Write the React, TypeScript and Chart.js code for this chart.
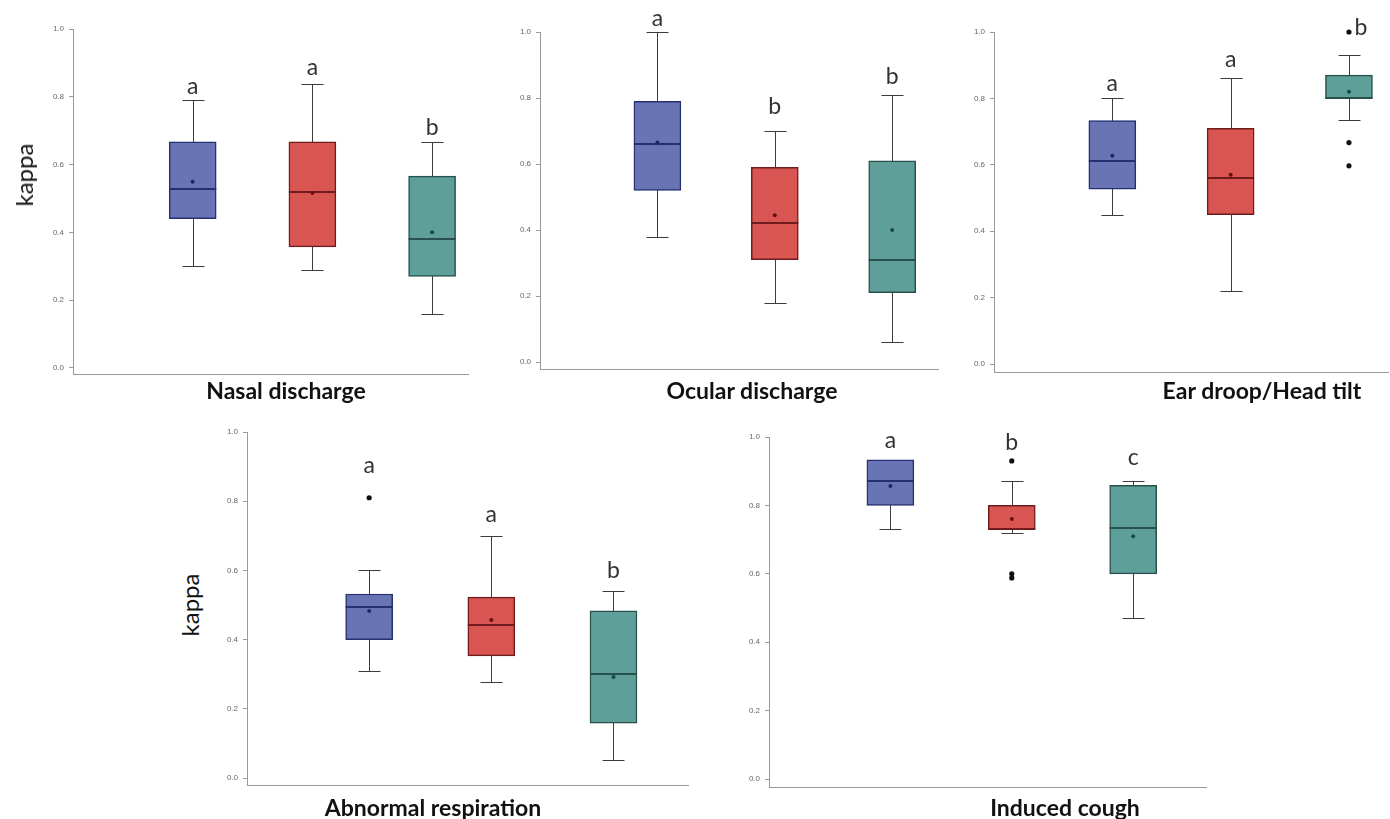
import React, { useEffect, useRef } from 'react';
import { Chart, registerables } from 'chart.js';

Chart.register(...registerables);

// ---------- data ----------
const groups = ['Group 1', 'Group 2', 'Group 3'];
const tickValues = [0, 0.2, 0.4, 0.6, 0.8, 1.0];
const tickLabels = ['0.0', '0.2', '0.4', '0.6', '0.8', '1.0'];

const nasalLow = [0.30, 0.29, 0.16];
const nasalQ1 = [0.44, 0.357, 0.27];
const nasalMedian = [0.528, 0.519, 0.38];
const nasalQ3 = [0.667, 0.667, 0.566];
const nasalHigh = [0.79, 0.838, 0.667];
const nasalMean = [0.549, 0.516, 0.40];
const nasalOutliers: [number, number][] = [];
const nasalLetters = ['a', 'a', 'b'];
const nasalLetterY = [0.808, 0.864, 0.687];

const ocularLow = [0.38, 0.18, 0.06];
const ocularQ1 = [0.52, 0.31, 0.21];
const ocularMedian = [0.66, 0.42, 0.31];
const ocularQ3 = [0.79, 0.59, 0.61];
const ocularHigh = [1.0, 0.70, 0.81];
const ocularMean = [0.665, 0.445, 0.40];
const ocularOutliers: [number, number][] = [];
const ocularLetters = ['a', 'b', 'b'];
const ocularLetterY = [1.018, 0.752, 0.842];

const earLow = [0.45, 0.22, 0.735];
const earQ1 = [0.527, 0.45, 0.80];
const earMedian = [0.61, 0.56, 0.80];
const earQ3 = [0.733, 0.71, 0.87];
const earHigh = [0.80, 0.86, 0.93];
const earMean = [0.627, 0.57, 0.82];
const earOutliers: [number, number][] = [[2, 1.0], [2, 0.667], [2, 0.597]];
const earLetters = ['a', 'a', 'b'];
const earLetterY = [0.822, 0.895, 0.991];

const respLow = [0.31, 0.277, 0.052];
const respQ1 = [0.40, 0.353, 0.159];
const respMedian = [0.494, 0.442, 0.30];
const respQ3 = [0.532, 0.523, 0.483];
const respHigh = [0.60, 0.70, 0.54];
const respMean = [0.483, 0.457, 0.292];
const respOutliers: [number, number][] = [[0, 0.81]];
const respLetters = ['a', 'a', 'b'];
const respLetterY = [0.882, 0.74, 0.578];

const coughLow = [0.73, 0.72, 0.47];
const coughQ1 = [0.80, 0.73, 0.60];
const coughMedian = [0.871, 0.73, 0.733];
const coughQ3 = [0.933, 0.80, 0.859];
const coughHigh = [0.933, 0.871, 0.871];
const coughMean = [0.857, 0.76, 0.71];
const coughOutliers: [number, number][] = [[1, 0.93], [1, 0.60], [1, 0.588]];
const coughLetters = ['a', 'b', 'c'];
const coughLetterY = [0.968, 0.962, 0.918];

// ---------- styles ----------
const FILL = ['#6874b4', '#d95552', '#5f9f99'];
const EDGE = ['#263070', '#701c1c', '#28504d'];
const MEANC = ['#1d2868', '#6a0f0f', '#1c4744'];
const WHISKER = '#3c3c3c';
const AXIS = '#9a9a9a';
const BOX_W = 47;
const CAP_W = 22;
const YW = 40; // y axis width
const PT = 30; // top padding
const XH = 10; // x axis height
const PR = 2;

type Panel = {
  title: string;
  low: number[]; q1: number[]; median: number[]; q3: number[]; high: number[]; mean: number[];
  outliers: [number, number][];
  letters: string[]; letterY: number[]; letterDx: number[];
  axisX: number; yAt1: number; xAxisY: number; right: number; yMin: number; xMax: number;
  titleX: number; titleTop: number;
};

const panels: Panel[] = [
  {
    title: 'Nasal discharge', low: nasalLow, q1: nasalQ1, median: nasalMedian, q3: nasalQ3, high: nasalHigh, mean: nasalMean,
    outliers: nasalOutliers, letters: nasalLetters, letterY: nasalLetterY, letterDx: [0, 0, 0],
    axisX: 73, yAt1: 29, xAxisY: 374, right: 470, yMin: -0.018, xMax: 3.30, titleX: 286, titleTop: 379,
  },
  {
    title: 'Ocular discharge', low: ocularLow, q1: ocularQ1, median: ocularMedian, q3: ocularQ3, high: ocularHigh, mean: ocularMean,
    outliers: ocularOutliers, letters: ocularLetters, letterY: ocularLetterY, letterDx: [0, 0, 0],
    axisX: 540, yAt1: 32, xAxisY: 369, right: 940, yMin: -0.021, xMax: 3.39, titleX: 752, titleTop: 379,
  },
  {
    title: 'Ear droop/Head tilt', low: earLow, q1: earQ1, median: earMedian, q3: earQ3, high: earHigh, mean: earMean,
    outliers: earOutliers, letters: earLetters, letterY: earLetterY, letterDx: [0, 0, 12],
    axisX: 994, yAt1: 32, xAxisY: 372, right: 1390, yMin: -0.024, xMax: 3.33, titleX: 1262, titleTop: 379,
  },
  {
    title: 'Abnormal respiration', low: respLow, q1: respQ1, median: respMedian, q3: respQ3, high: respHigh, mean: respMean,
    outliers: respOutliers, letters: respLetters, letterY: respLetterY, letterDx: [0, 0, 0],
    axisX: 247, yAt1: 432, xAxisY: 785, right: 690, yMin: -0.02, xMax: 3.61, titleX: 433, titleTop: 796,
  },
  {
    title: 'Induced cough', low: coughLow, q1: coughQ1, median: coughMedian, q3: coughQ3, high: coughHigh, mean: coughMean,
    outliers: coughOutliers, letters: coughLetters, letterY: coughLetterY, letterDx: [0, 0, 0],
    axisX: 769, yAt1: 437, xAxisY: 787, right: 1208, yMin: -0.023, xMax: 3.60, titleX: 1065, titleTop: 796,
  },
];

const kappaLabels = [
  { x: 24, y: 175 },
  { x: 190, y: 605 },
];

function makeBoxPlugin(p: Panel) {
  return {
    id: 'boxExtras',
    beforeDatasetsDraw(chart: any) {
      const { ctx } = chart;
      const x = chart.scales.x, y = chart.scales.y;
      ctx.save();
      ctx.strokeStyle = WHISKER;
      ctx.lineWidth = 1;
      p.low.forEach((lo, i) => {
        const cx = Math.round(x.getPixelForValue(i + 1)) + 0.5;
        const yl = Math.round(y.getPixelForValue(lo)) + 0.5;
        const yh = Math.round(y.getPixelForValue(p.high[i])) + 0.5;
        ctx.beginPath();
        ctx.moveTo(cx, yl); ctx.lineTo(cx, yh);
        ctx.moveTo(cx - CAP_W / 2, yl); ctx.lineTo(cx + CAP_W / 2, yl);
        ctx.moveTo(cx - CAP_W / 2, yh); ctx.lineTo(cx + CAP_W / 2, yh);
        ctx.stroke();
      });
      ctx.restore();
    },
    afterDatasetDraw(chart: any, args: any) {
      if (args.index !== 0) return;
      const { ctx } = chart;
      const x = chart.scales.x, y = chart.scales.y;
      ctx.save();
      ctx.lineWidth = 2;
      p.median.forEach((m, i) => {
        const cx = x.getPixelForValue(i + 1);
        const yy = Math.round(y.getPixelForValue(m));
        ctx.strokeStyle = EDGE[i];
        ctx.beginPath();
        ctx.moveTo(cx - BOX_W / 2, yy); ctx.lineTo(cx + BOX_W / 2, yy);
        ctx.stroke();
      });
      ctx.restore();
    },
    afterDraw(chart: any) {
      const { ctx } = chart;
      const x = chart.scales.x, y = chart.scales.y;
      ctx.save();
      ctx.font = '23px Lato';
      ctx.fillStyle = '#333';
      ctx.textAlign = 'center';
      ctx.textBaseline = 'alphabetic';
      p.letters.forEach((l, i) => {
        ctx.fillText(l, x.getPixelForValue(i + 1) + p.letterDx[i], y.getPixelForValue(p.letterY[i]));
      });
      ctx.restore();
    },
  };
}

function BoxPanel({ p }: { p: Panel }) {
  const ref = useRef<HTMLCanvasElement | null>(null);
  const left = p.axisX - YW;
  const top = p.yAt1 - PT;
  const width = p.right - p.axisX + YW + PR;
  const height = p.xAxisY - p.yAt1 + PT + XH;

  useEffect(() => {
    if (!ref.current) return;
    const chart = new Chart(ref.current, {
      type: 'bar',
      data: {
        datasets: [
          {
            type: 'bar',
            label: 'IQR',
            data: groups.map((g, i) => ({ x: i + 1, y: [p.q1[i], p.q3[i]] })) as any,
            backgroundColor: FILL,
            borderColor: EDGE,
            borderWidth: 1.5,
            borderSkipped: false,
            barThickness: BOX_W,
            order: 2,
          } as any,
          {
            type: 'scatter',
            label: 'Mean',
            data: p.mean.map((m, i) => ({ x: i + 1, y: m })),
            pointRadius: 2,
            pointBackgroundColor: MEANC,
            pointBorderWidth: 0,
            clip: false,
            order: 1,
          } as any,
          {
            type: 'scatter',
            label: 'Outliers',
            data: p.outliers.map(([g, v]) => ({ x: g + 1, y: v })),
            pointRadius: 2.6,
            pointBackgroundColor: '#111',
            pointBorderWidth: 0,
            clip: false,
            order: 0,
          } as any,
        ],
      },
      options: {
        responsive: false,
        animation: false,
        devicePixelRatio: 1,
        layout: { padding: { top: PT, right: PR, bottom: 0, left: 0 } },
        plugins: { legend: { display: false }, tooltip: { enabled: false } },
        scales: {
          x: {
            type: 'linear',
            offset: false,
            min: 0,
            max: p.xMax,
            ticks: { display: false },
            grid: { display: false },
            border: { display: true, color: AXIS, width: 1 },
            afterFit: (s: any) => { s.height = XH; },
          },
          y: {
            type: 'linear',
            min: p.yMin,
            max: 1.0,
            afterBuildTicks: (s: any) => { s.ticks = tickValues.map((v) => ({ value: v })); },
            ticks: {
              callback: (_v: any, i: number) => tickLabels[i],
              font: { size: 8, family: 'Liberation Sans' },
              color: '#666',
              padding: 5,
            },
            grid: { display: true, drawOnChartArea: false, drawTicks: true, tickLength: 4, color: AXIS },
            border: { display: true, color: AXIS, width: 1 },
            afterFit: (s: any) => { s.width = YW; },
          },
        },
      } as any,
      plugins: [makeBoxPlugin(p)],
    });
    return () => chart.destroy();
  }, [p]);

  return (
    <canvas
      ref={ref}
      width={width}
      height={height}
      style={{ position: 'absolute', left, top, width, height }}
    />
  );
}

export default function App() {
  return (
    <div style={{ position: 'absolute', left: 0, top: 0, width: 1390, height: 819, background: '#fff', overflow: 'hidden' }}>
      {panels.map((p) => (
        <BoxPanel key={p.title} p={p} />
      ))}
      {panels.map((p) => (
        <div
          key={p.title + '-t'}
          style={{
            position: 'absolute', left: p.titleX, top: p.titleTop, transform: 'translateX(-50%)',
            font: 'bold 23px Lato', lineHeight: '23px', color: '#111', whiteSpace: 'nowrap',
          }}
        >
          {p.title}
        </div>
      ))}
      {kappaLabels.map((k, i) => (
        <div
          key={'k' + i}
          style={{
            position: 'absolute', left: k.x, top: k.y, transform: 'translate(-50%, -50%) rotate(-90deg)',
            font: '24px Lato', lineHeight: '24px', color: '#111', whiteSpace: 'nowrap',
          }}
        >
          kappa
        </div>
      ))}
    </div>
  );
}
